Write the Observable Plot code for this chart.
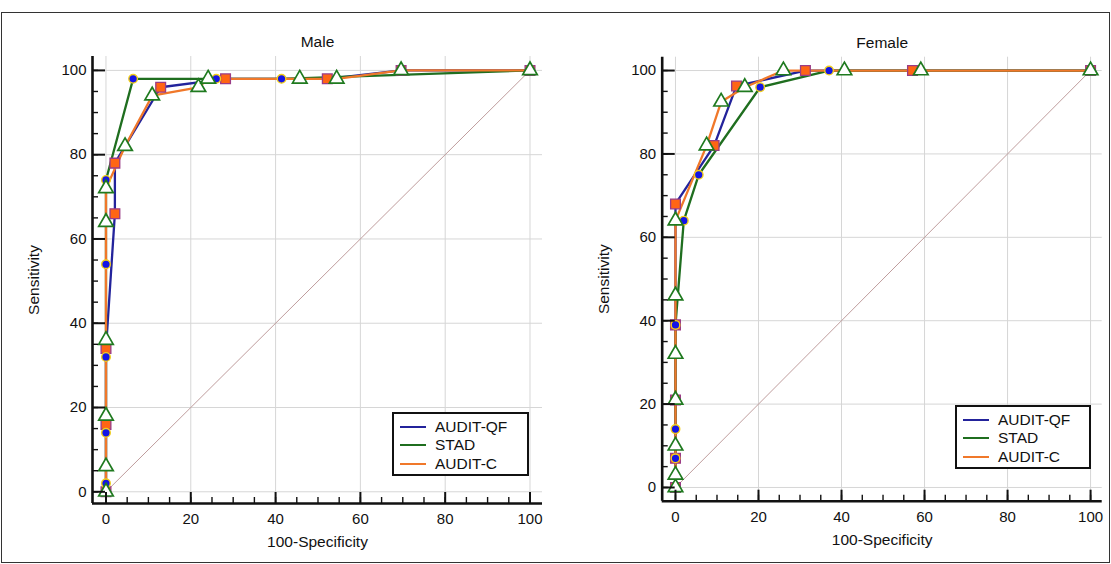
<!DOCTYPE html>
<html><head><meta charset="utf-8">
<script src="https://cdn.jsdelivr.net/npm/d3@7"></script>
<script src="https://cdn.jsdelivr.net/npm/@observablehq/plot@0.6"></script>
<style>
body{margin:0;background:#fff;font-family:"Liberation Sans",Arial,sans-serif;}
#fig{position:relative;width:1111px;height:564px;overflow:hidden;background:#fff;}
#fig .border{position:absolute;left:1px;top:12px;width:1109px;height:551px;box-sizing:border-box;border:1px solid #333;pointer-events:none;}
.panel{position:absolute;top:0;}
.legend{position:absolute;border:2px solid #111;background:#fff;box-sizing:border-box;font-size:15.5px;color:#111;}
.legend .row{position:absolute;left:0;height:18px;display:flex;align-items:center;white-space:nowrap;}
.legend .row svg{margin-left:6px;margin-right:9px;}
</style></head><body><div id="fig"></div>
<script>
// ---- data ----
const seriesNames = ["AUDIT-QF", "STAD", "AUDIT-C"];
const panelTitles = ["Male", "Female"];
const majorTicks = [0, 20, 40, 60, 80, 100];
const minorTicks = [0,5,10,15,20,25,30,35,40,45,50,55,60,65,70,75,80,85,90,95,100];
const refLine = [0, 100];

// [100-Specificity, Sensitivity]
const maleQF   = [[0,0],[0,16],[0,34],[2.1,66],[2.1,78],[12.9,96],[28.2,98],[52.2,98],[69.6,100],[100,100]];
const maleSTAD = [[0,0],[0,2],[0,14],[0,32],[0,54],[0,74],[6.4,98],[26,98],[41.4,98],[100,100]];
const maleC    = [[0,0],[0,6],[0,18],[0,36],[0,64],[0,72],[4.5,82],[10.9,94],[21.8,96],[24.1,98],[45.7,98],[54.4,98],[69.6,100],[100,100]];

const femaleQF   = [[0,0],[0,7],[0,21],[0,39],[0,68],[9.3,82],[14.7,96.3],[31.3,100],[57.1,100],[100,100]];
const femaleSTAD = [[0,0],[0,7],[0,14],[0,39],[2,64],[5.6,75],[20.4,96],[37,100],[100,100]];
const femaleC    = [[0,0],[0,3],[0,10],[0,21],[0,32],[0,46],[0,64],[7.5,82],[11,92.5],[16.7,96],[26,100],[40.7,100],[59.1,100],[100,100]];

// ---- styles ----
const lineColors = {"AUDIT-QF": "#23239b", "STAD": "#1f6e1f", "AUDIT-C": "#f0782a"};
const H = 564;

function panel(cfg) {
  const {title, qf, stad, c, left, width, m, xDomain, yDomain} = cfg;
  const fw = width - m.left - m.right;
  const fh = H - m.top - m.bottom;
  const X = d => d[0], Y = d => d[1];
  const plot = Plot.plot({
    width, height: H,
    marginLeft: m.left, marginRight: m.right, marginTop: m.top, marginBottom: m.bottom,
    x: {domain: xDomain, axis: null},
    y: {domain: yDomain, axis: null},
    style: {fontFamily: "'Liberation Sans', Arial, sans-serif", fontSize: "15px", color: "#111", background: "transparent", overflow: "visible"},
    marks: [
      Plot.gridX(majorTicks, {stroke: "#d6d6d6", strokeOpacity: 1, strokeWidth: 1}),
      Plot.gridY(majorTicks, {stroke: "#d6d6d6", strokeOpacity: 1, strokeWidth: 1}),
      Plot.line(refLine, {x: d => d, y: d => d, stroke: "#bf9d9d", strokeWidth: 1}),
      Plot.line(qf, {x: X, y: Y, stroke: lineColors["AUDIT-QF"], strokeWidth: 2.3}),
      Plot.line(stad, {x: X, y: Y, stroke: lineColors["STAD"], strokeWidth: 2.3}),
      Plot.line(c, {x: X, y: Y, stroke: lineColors["AUDIT-C"], strokeWidth: 2.3}),
      Plot.dot(qf, {x: X, y: Y, symbol: "square", r: 5.5, fill: "#ff6514", stroke: "#9a3c86", strokeWidth: 1.3}),
      Plot.dot(stad.slice(1, -1), {x: X, y: Y, symbol: "circle", r: 4.3, fill: "#1414e6", stroke: "#f2cf1a", strokeWidth: 1.4}),
      Plot.dot(c, {x: X, y: Y, symbol: "triangle", r: 5.4, fill: "#fff", stroke: "#1f7a1f", strokeWidth: 1.7}),
      Plot.tickY(minorTicks, {y: d => d, insetRight: fw - 6, stroke: "#111", strokeWidth: 1.4}),
      Plot.tickY(majorTicks, {y: d => d, insetRight: fw - 13, stroke: "#111", strokeWidth: 2}),
      Plot.tickX(minorTicks, {x: d => d, insetTop: fh - 6, stroke: "#111", strokeWidth: 1.4}),
      Plot.tickX(majorTicks, {x: d => d, insetTop: fh - 11, stroke: "#111", strokeWidth: 2}),
      Plot.ruleX([xDomain[0]], {stroke: "#111", strokeWidth: 2.6}),
      Plot.ruleY([yDomain[0]], {stroke: "#111", strokeWidth: 2.6}),
      Plot.axisY(majorTicks, {tickSize: 0, tickPadding: 6, fontSize: 15, label: null}),
      Plot.axisX(majorTicks, {tickSize: 0, tickPadding: 10, fontSize: 15, label: null}),
      Plot.text([title], {text: d => d, frameAnchor: "top", lineAnchor: "middle", textAnchor: "middle", dy: -14.5, fontSize: 15.5}),
      Plot.text(["100-Specificity"], {text: d => d, frameAnchor: "bottom", lineAnchor: "middle", textAnchor: "middle", dy: 39, fontSize: 15.5}),
      Plot.text(["Sensitivity"], {text: d => d, frameAnchor: "left", lineAnchor: "middle", textAnchor: "middle", rotate: -90, dx: -58, fontSize: 15.5})
    ]
  });
  plot.classList.add("panel");
  plot.style.left = left + "px";
  return plot;
}

function legend(left, top, width, height) {
  const div = document.createElement("div");
  div.className = "legend";
  Object.assign(div.style, {left: left + "px", top: top + "px", width: width + "px", height: height + "px"});
  const rowTops = [4, 22, 40.5];
  seriesNames.forEach((name, i) => {
    const row = document.createElement("div");
    row.className = "row";
    row.style.top = rowTops[i] + "px";
    row.innerHTML = `<svg width="26" height="4"><line x1="0" x2="26" y1="2" y2="2" stroke="${lineColors[name]}" stroke-width="2"/></svg><span>${name}</span>`;
    div.appendChild(row);
  });
  return div;
}

const fig = document.getElementById("fig");
fig.appendChild(panel({
  title: panelTitles[0], qf: maleQF, stad: maleSTAD, c: maleC,
  left: 0, width: 555, m: {left: 92, right: 13, top: 56, bottom: 61},
  xDomain: [-3.18, 102.95], yDomain: [-2.78, 103.3]
}));
fig.appendChild(panel({
  title: panelTitles[1], qf: femaleQF, stad: femaleSTAD, c: femaleC,
  left: 555, width: 556, m: {left: 106.7, right: 9.3, top: 56.7, bottom: 63.3},
  xDomain: [-3.2, 102.8], yDomain: [-3.29, 103.2]
}));
fig.appendChild(legend(392, 412, 137, 64));
fig.appendChild(legend(955, 405, 136, 64));
const b = document.createElement("div"); b.className = "border"; fig.appendChild(b);
</script></body></html>
